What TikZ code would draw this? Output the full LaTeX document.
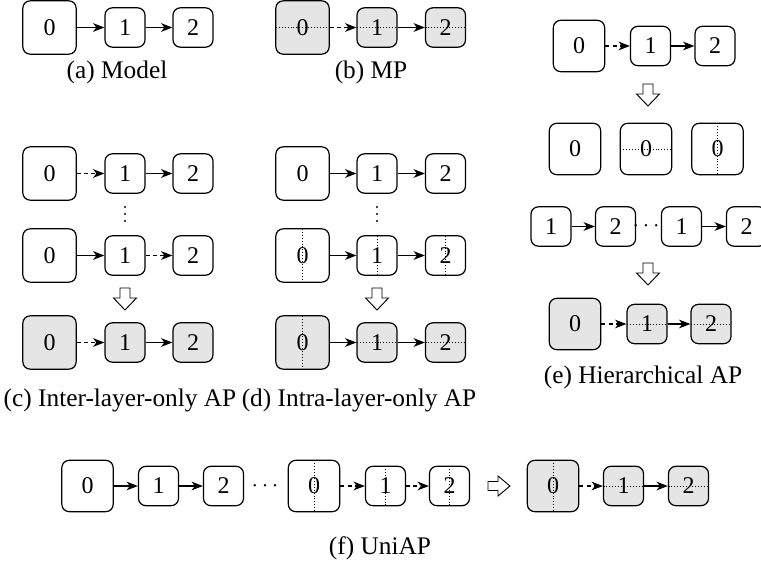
\documentclass[tikz,border=0pt]{standalone}
\usepackage{fontspec}
\setmainfont{Liberation Serif}
\usetikzlibrary{arrows.meta}
\begin{document}
\begin{tikzpicture}[x=0.75pt,y=-0.75pt,
  box/.style={draw, line width=0.9pt, rounded corners=5.5pt, inner sep=0pt, font=\fontsize{18}{21}\selectfont},
  big/.style={box, minimum width=40pt, minimum height=40pt},
  bige/.style={box, minimum width=38.5pt, minimum height=38.5pt},
  small/.style={box, minimum width=30pt, minimum height=29.5pt},
  gfill/.style={fill=black!10},
  dotline/.style={line width=0.7pt, dash pattern=on 0.7pt off 1.5pt},
  hd/.style={path picture={\draw[dotline] (path picture bounding box.west) -- (path picture bounding box.east);}},
  vd/.style={path picture={\draw[dotline] (path picture bounding box.north) -- (path picture bounding box.south);}},
  arr/.style={line width=0.9pt, -{Stealth[length=8.5pt,width=6.5pt,inset=2.5pt]}},
  darr/.style={arr, dash pattern=on 3pt off 2.5pt},
  captext/.style={font=\fontsize{19}{22}\selectfont},
  ell/.style={font=\fontsize{17}{20}\selectfont, inner sep=0pt},
  vdotsstyle/.style={fill=black, circle, inner sep=0pt, minimum size=1.8pt},
  downblk/.pic={\draw[line width=0.7pt, fill=white] (-5,-11) -- (5,-11) -- (5,-1) -- (11.5,-1) -- (0,11) -- (-11.5,-1) -- (-5,-1) -- cycle;},
  rightblk/.pic={\draw[line width=0.7pt, fill=white] (-11,-4.5) -- (-1,-4.5) -- (-1,-10) -- (11,0) -- (-1,10) -- (-1,4.5) -- (-11,4.5) -- cycle;}
]
\useasboundingbox (0,0) rectangle (761,564);

% (a)
\node[big] (a0) at (49.5,27.5) {0};
\node[small] (a1) at (125,27.5) {1};
\node[small] (a2) at (193,27.5) {2};
\draw[arr] (a0) -- (a1);
\draw[arr] (a1) -- (a2);
\node[captext] (ca) at (117,72) {(a) Model};

% (b)
\node[big,gfill,hd] (b0) at (302.5,27.5) {0};
\node[small,gfill,hd] (b1) at (377,27.5) {1};
\node[small,gfill,hd] (b2) at (445.5,27.5) {2};
\draw[darr] (b0) -- (b1);
\draw[arr] (b1) -- (b2);
\node[captext] (cb) at (371,72) {(b) MP};

% (c)
\node[big] (c10) at (49.5,173.5) {0};
\node[small] (c11) at (125,173.5) {1};
\node[small] (c12) at (193,173.5) {2};
\draw[darr] (c10) -- (c11);
\draw[arr] (c11) -- (c12);
\node[vdotsstyle] (cd1) at (125,207) {};
\node[vdotsstyle] (cd2) at (125,214) {};
\node[vdotsstyle] (cd3) at (125,221) {};
\node[big] (c20) at (49.5,255.5) {0};
\node[small] (c21) at (125,255.5) {1};
\node[small] (c22) at (193,255.5) {2};
\draw[arr] (c20) -- (c21);
\draw[darr] (c21) -- (c22);
\pic at (125,299) {downblk};
\node[big,gfill] (c30) at (49.5,342.5) {0};
\node[small,gfill] (c31) at (125,342.5) {1};
\node[small,gfill] (c32) at (193,342.5) {2};
\draw[darr] (c30) -- (c31);
\draw[arr] (c31) -- (c32);
\node[captext] (cc) at (120,400) {(c) Inter-layer-only AP};

% (d)
\node[big] (d10) at (302.5,173.5) {0};
\node[small] (d11) at (377,173.5) {1};
\node[small] (d12) at (445.5,173.5) {2};
\draw[arr] (d10) -- (d11);
\draw[arr] (d11) -- (d12);
\node[vdotsstyle] (dd1) at (377,207) {};
\node[vdotsstyle] (dd2) at (377,214) {};
\node[vdotsstyle] (dd3) at (377,221) {};
\node[big,vd] (d20) at (302.5,255.5) {0};
\node[small,vd] (d21) at (377,255.5) {1};
\node[small,vd] (d22) at (445.5,255.5) {2};
\draw[arr] (d20) -- (d21);
\draw[arr] (d21) -- (d22);
\pic at (377,299) {downblk};
\node[big,gfill,vd] (d30) at (302.5,342.5) {0};
\node[small,gfill,hd] (d31) at (377,342.5) {1};
\node[small,gfill,hd] (d32) at (445.5,342.5) {2};
\draw[arr] (d30) -- (d31);
\draw[arr] (d31) -- (d32);
\node[captext] (cd) at (359,400) {(d) Intra-layer-only AP};

% (e)
\node[bige] (e10) at (579,46) {0};
\node[small] (e11) at (650.5,46) {1};
\node[small] (e12) at (715,46) {2};
\draw[darr] (e10) -- (e11);
\draw[arr] (e11) -- (e12);
\pic at (648,95) {downblk};
\node[bige] (e20) at (575,149) {0};
\node[bige,hd] (e21) at (646,149) {0};
\node[bige,vd] (e22) at (717.5,149) {0};
\node[small] (e30) at (551,226.5) {1};
\node[small] (e31) at (615.5,226.5) {2};
\node[small] (e32) at (681.5,226.5) {1};
\node[small] (e33) at (746.5,226.5) {2};
\draw[arr] (e30) -- (e31);
\draw[arr] (e32) -- (e33);
\node[ell] (edots) at (646,226.5) {$\cdots$};
\pic at (648,274) {downblk};
\node[bige,gfill] (e40) at (575,324) {0};
\node[small,gfill,hd] (e41) at (647,324) {1};
\node[small,gfill,hd] (e42) at (711,324) {2};
\draw[darr] (e40) -- (e41);
\draw[arr] (e41) -- (e42);
\node[captext] (ce) at (643,377) {(e) Hierarchical AP};

% (f)
\node[bige] (g0) at (87.5,486) {0};
\node[small] (g1) at (158.5,486) {1};
\node[small] (g2) at (223.5,486) {2};
\draw[arr] (g0) -- (g1);
\draw[arr] (g1) -- (g2);
\node[ell] (fdots) at (265,486) {$\cdots$};
\node[bige,vd] (h0) at (314,486) {0};
\node[small,vd] (h1) at (385.5,486) {1};
\node[small,vd] (h2) at (449.5,486) {2};
\draw[darr] (h0) -- (h1);
\draw[darr] (h1) -- (h2);
\pic at (499,486) {rightblk};
\node[bige,gfill,vd] (i0) at (553,486) {0};
\node[small,gfill,hd] (i1) at (623.5,486) {1};
\node[small,gfill,hd] (i2) at (688.5,486) {2};
\draw[darr] (i0) -- (i1);
\draw[arr] (i1) -- (i2);
\node[captext] (cf) at (380,548) {(f) UniAP};
\end{tikzpicture}
\end{document}
